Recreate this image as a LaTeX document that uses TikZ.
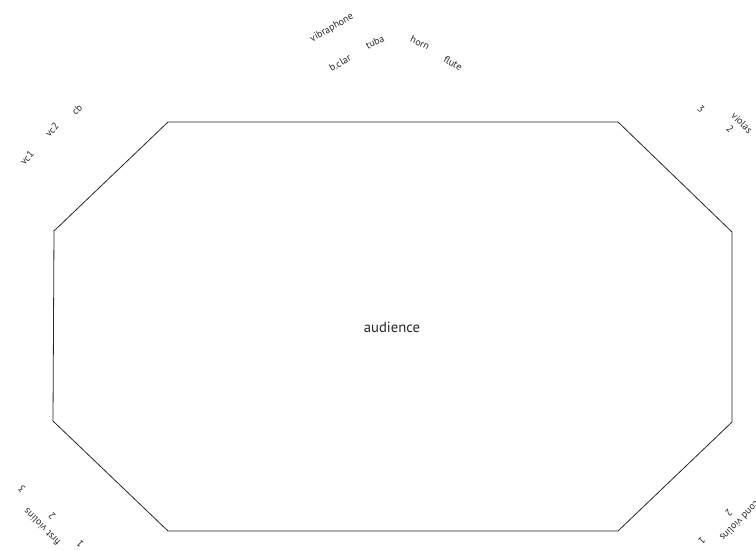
\documentclass[tikz,border=0pt]{standalone}
\usepackage{fontspec}
\setmainfont{PT Sans}
\usepackage{tikz}

\begin{document}
\begin{tikzpicture}[x=0.75pt,y=-0.75pt,
  lbl/.style={inner sep=0pt,font=\fontsize{7.5}{8}\selectfont,text=black!85},
  hall/.style={draw=black!85,line width=0.6pt,line join=miter}]
  \useasboundingbox (0,0) rectangle (756,550);
  % hall outline
  \draw[hall] (168,122) -- (618,122) -- (732,232) -- (732,422) -- (618,531)
    -- (168,531) -- (53,421) -- (54,231) -- cycle;
  \node[font=\fontsize{11}{13}\selectfont,text=black!85] (aud) at (392,327) {audience};
  % winds
  \node[lbl,rotate=30] (vib) at (332,28) {vibraphone};
  \node[lbl,rotate=30] (bcl) at (340,63) {b.clar};
  \node[lbl,rotate=25] (tba) at (375,42) {tuba};
  \node[lbl,rotate=-25] (hrn) at (420,43) {horn};
  \node[lbl,rotate=-30] (flt) at (453,63) {flute};
  % low strings
  \node[lbl,rotate=48] (vca) at (27,158) {vc1};
  \node[lbl,rotate=48] (vcb) at (52,130) {vc2};
  \node[lbl,rotate=48] (cb) at (77,110) {cb};
  % violas
  \node[lbl,rotate=-45] (vla3) at (701,109) {3};
  \node[lbl,rotate=-45] (vla) at (742,123) {violas};
  \node[lbl,rotate=-45] (vla2) at (730,129) {2};
  % first violins
  \node[lbl,rotate=135] (vna3) at (22,489) {3};
  \node[lbl,rotate=135] (vna2) at (52,516) {2};
  \node[lbl,rotate=135] (vna) at (42,527) {first violins};
  \node[lbl,rotate=135] (vna1) at (80,544) {1};
  % second violins
  \node[lbl,rotate=225] (vnb2) at (729,513) {2};
  \node[lbl,rotate=225] (vnb) at (743,518) {second violins};
  \node[lbl,rotate=225] (vnb1) at (702,541) {1};
\end{tikzpicture}
\end{document}
